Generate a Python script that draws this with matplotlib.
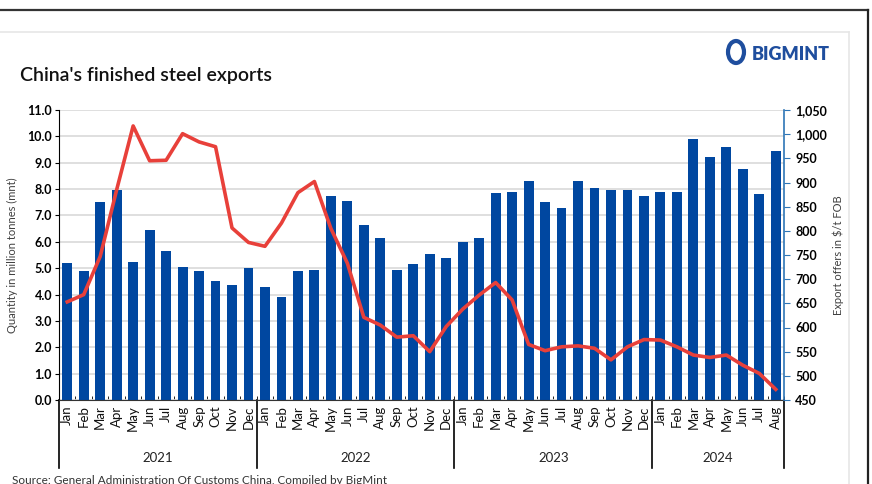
import matplotlib.pyplot as plt
import matplotlib.patches as mpatches
import numpy as np

plt.rcParams['font.family'] = ['Lato', 'DejaVu Sans']

months = ["Jan", "Feb", "Mar", "Apr", "May", "Jun", "Jul", "Aug", "Sep", "Oct", "Nov", "Dec"]
years = ["2021", "2022", "2023", "2024"]
months_per_year = [12, 12, 12, 8]

# finished steel exports, million tonnes
exports = [5.2, 4.9, 7.5, 7.95, 5.25, 6.45, 5.65, 5.05, 4.9, 4.5, 4.35, 5.0,
           4.3, 3.9, 4.9, 4.95, 7.75, 7.55, 6.65, 6.15, 4.95, 5.15, 5.55, 5.4,
           6.0, 6.15, 7.85, 7.9, 8.3, 7.5, 7.3, 8.3, 8.05, 7.95, 7.95, 7.75,
           7.9, 7.9, 9.9, 9.2, 9.6, 8.75, 7.8, 9.45]
# export offers, $/t FOB
offers = [653, 668, 747, 885, 1017, 945, 946, 1001, 984, 974, 806, 776,
          768, 816, 879, 902, 805, 733, 621, 605, 580, 583, 550, 602,
          638, 667, 693, 657, 565, 552, 560, 562, 557, 533, 560, 575,
          574, 560, 543, 538, 543, 522, 505, 472]

month_labels = []
for n in months_per_year:
    month_labels += months[:n]
x = np.arange(len(exports))

W, H = 872, 484
fig = plt.figure(figsize=(W / 100, H / 100), dpi=100)

# frame lines
fig.add_artist(plt.Line2D([0, 868 / W], [1 - 10 / H, 1 - 10 / H], color='#333333', lw=1.6))
fig.add_artist(plt.Line2D([868 / W, 868 / W], [0, 1 - 10 / H], color='#222222', lw=1.6))
fig.add_artist(plt.Line2D([0, 849 / W], [1 - 32 / H, 1 - 32 / H], color='#E6E6E6', lw=1.2))
fig.add_artist(plt.Line2D([849 / W, 849 / W], [0, 1 - 32 / H], color='#E6E6E6', lw=1.2))

ax = fig.add_axes([59 / W, (H - 400) / H, (784 - 59) / W, 290 / H])
ax.bar(x, exports, width=0.6, color='#0047A0', zorder=2)
ax.set_xlim(-0.5, len(x) - 0.5)
ax.set_ylim(0, 11)
ax.set_yticks(np.arange(0, 11.5, 1.0))
ax.set_yticklabels([f"{v:.1f}" for v in np.arange(0, 11.5, 1.0)], fontweight='bold', fontsize=9)
ax.yaxis.grid(True, color='#D9D9D9', lw=1.2, zorder=0)
ax.set_axisbelow(True)
ax.tick_params(axis='y', length=3, color='black', pad=2)
ax.set_ylabel("Quantity in million tonnes (mnt)", fontsize=8, color='#404040', labelpad=7)
for s in ['top', 'right']:
    ax.spines[s].set_visible(False)
ax.spines['left'].set_color('black')
ax.spines['bottom'].set_color('#333333')

ax.set_xticks(x)
ax.set_xticklabels(month_labels, rotation=90, fontsize=9.5, color='#111111')
ax.tick_params(axis='x', length=0, pad=4)
ax.set_xticks(np.arange(-0.5, len(x), 1), minor=True)
ax.tick_params(axis='x', which='minor', direction='in', length=3, color='black')

# year separators and labels
trans = ax.get_xaxis_transform()
start = 0
bounds = [-0.5]
for yr, n in zip(years, months_per_year):
    ax.text(start + (n - 1) / 2, -0.2, yr, transform=trans, ha='center', va='center',
            fontsize=9.5, color='#222222')
    start += n
    bounds.append(start - 0.5)
for b in bounds:
    ax.plot([b, b], [0, -0.235], transform=trans, color='black', lw=1.2, clip_on=False)

ax2 = ax.twinx()
ax2.plot(x, offers, color='#E8403A', lw=2.6, zorder=3)
ax2.set_ylim(450, 1050)
rticks = np.arange(450, 1051, 50)
ax2.set_yticks(rticks)
ax2.set_yticklabels([f"{v:,}" for v in rticks], fontweight='bold', fontsize=9)
ax2.tick_params(axis='y', length=4, color='#2E75B6', pad=4)
for s in ['top', 'left', 'bottom']:
    ax2.spines[s].set_visible(False)
ax2.spines['right'].set_color('#2E75B6')
ax2.spines['right'].set_linewidth(1.2)
ax2.set_ylabel("Export offers in $/t FOB", fontsize=8, color='#404040', labelpad=4)

fig.text(20 / W, 1 - 75 / H, "China's finished steel exports", fontsize=14, fontweight='semibold',
         color='#111111', va='center')
# logo
fig.add_artist(mpatches.Ellipse((736 / W, 1 - 52 / H), 16 / W, 22 / H, facecolor='none',
                                edgecolor='#1F4E9E', lw=3))
fig.text(752 / W, 1 - 54 / H, "BIGMINT", fontsize=13, fontweight='heavy', color='#1F4E9E', va='center')

fig.text(12 / W, 1 - 480 / H, "Source: General Administration Of Customs China, Compiled by BigMint",
         fontsize=8.5, color='#333333', va='center')

fig.savefig("out.png", dpi=100)
